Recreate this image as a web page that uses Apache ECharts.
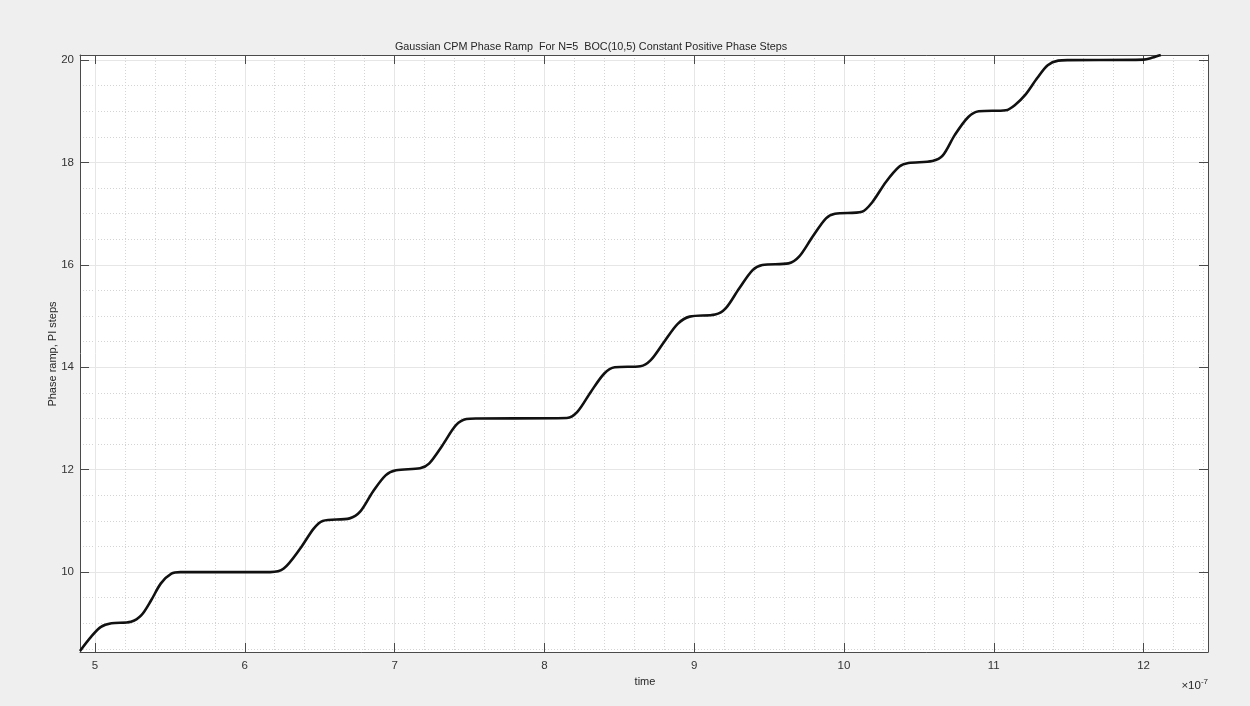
<!DOCTYPE html>
<html>
<head>
<meta charset="utf-8">
<style>
html,body{margin:0;padding:0;background:#efefef;}
#chart{width:1250px;height:706px;}
</style>
<script src="https://cdn.jsdelivr.net/npm/echarts@6/dist/echarts.min.js"></script>
</head>
<body>
<div id="chart"></div>
<script>
// time values in units of 1e-7 s
const timeValues = [4.90,4.975,5.04,5.11,5.24,5.31,5.375,5.44,5.51,5.57,
  6.17,6.26,6.37,6.46,6.52,6.70,6.77,6.855,6.94,7.01,
  7.17,7.23,7.32,7.41,7.48,7.55,8.15,8.22,8.31,8.40,
  8.47,8.64,8.71,8.80,8.89,8.97,9.14,9.21,9.30,9.39,
  9.455,9.63,9.70,9.79,9.88,9.94,10.12,10.19,10.28,10.37,
  10.43,10.59,10.66,10.74,10.83,10.90,11.08,11.14,11.21,11.29,
  11.36,11.43,11.50,12.00,12.06,12.115];
const phaseValues = [8.46,8.74,8.93,9.00,9.03,9.16,9.45,9.78,9.97,10.00,
  10.00,10.07,10.46,10.85,11.00,11.05,11.18,11.57,11.89,11.99,
  12.03,12.12,12.48,12.87,12.99,13.00,13.01,13.13,13.52,13.88,
  14.00,14.02,14.14,14.50,14.85,14.99,15.03,15.15,15.54,15.90,
  16.00,16.03,16.16,16.55,16.91,17.00,17.04,17.23,17.62,17.92,
  17.99,18.03,18.14,18.54,18.89,19.00,19.02,19.12,19.32,19.65,
  19.90,19.99,20.00,20.01,20.05,20.10];
const titleText = 'Gaussian CPM Phase Ramp  For N=5  BOC(10,5) Constant Positive Phase Steps';
const xLabel = 'time';
const yLabel = 'Phase ramp, PI steps';

const seriesData = timeValues.map((t, i) => [t, phaseValues[i]]);
const font = '"Liberation Sans", Arial, Helvetica, sans-serif';
const axisColor = '#4a4a4a';

function xAx(pos, labels) {
  return {
    type: 'value', position: pos, min: 4.9, max: 12.43,
    minInterval: 1, maxInterval: 1,
    axisLine: {show: true, onZero: false, lineStyle: {color: axisColor, width: 1}},
    axisTick: {show: true, inside: true, length: 9, lineStyle: {color: axisColor}},
    axisLabel: {show: labels, showMinLabel: false, showMaxLabel: false, color: '#333', fontSize: 11.5, fontFamily: font, margin: 8},
    minorTick: {show: false, splitNumber: 5},
    splitLine: {show: labels, lineStyle: {color: '#e6e6e6', width: 1, type: 'solid'}},
    minorSplitLine: {show: labels, lineStyle: {color: '#d4d4d4', width: 1, type: [1, 2]}}
  };
}
function yAx(pos, labels) {
  return {
    type: 'value', position: pos, min: 8.44, max: 20.1,
    minInterval: 2, maxInterval: 2,
    axisLine: {show: true, onZero: false, lineStyle: {color: axisColor, width: 1}},
    axisTick: {show: true, inside: true, length: 9, lineStyle: {color: axisColor}},
    axisLabel: {show: labels, showMinLabel: false, showMaxLabel: false, color: '#333', fontSize: 11.5, fontFamily: font, margin: 6},
    minorTick: {show: false, splitNumber: 4},
    splitLine: {show: labels, lineStyle: {color: '#e6e6e6', width: 1, type: 'solid'}},
    minorSplitLine: {show: labels, lineStyle: {color: '#d4d4d4', width: 1, type: [1, 2]}}
  };
}

const chart = echarts.init(document.getElementById('chart'), null, {renderer: 'canvas'});
chart.setOption({
  backgroundColor: '#efefef',
  animation: false,
  grid: {left: 80, right: 42, top: 55, bottom: 54, show: true, backgroundColor: '#ffffff', borderWidth: 0, outerBoundsMode: 'none'},
  xAxis: [xAx('bottom', true), xAx('top', false)],
  yAxis: [yAx('left', true), yAx('right', false)],
  series: [{
    type: 'line', data: seriesData, xAxisIndex: 0, yAxisIndex: 0,
    showSymbol: false, smooth: 0.3,
    lineStyle: {color: '#111111', width: 2.6}, clip: true
  }],
  graphic: [
    {type: 'text', x: 591, y: 47, style: {text: titleText, font: '10.8px ' + font, fill: '#262626', textAlign: 'center', textVerticalAlign: 'middle'}},
    {type: 'text', x: 645, y: 682, style: {text: xLabel, font: '11px ' + font, fill: '#262626', textAlign: 'center', textVerticalAlign: 'middle'}},
    {type: 'text', x: 53, y: 354, rotation: Math.PI / 2, style: {text: yLabel, font: '11px ' + font, fill: '#262626', textAlign: 'center', textVerticalAlign: 'middle'}},
    {type: 'text', right: 42, top: 678, style: {
      text: '{a|×10}{b|-7}', fill: '#262626',
      rich: {a: {font: '11.5px ' + font, fill: '#262626', verticalAlign: 'bottom'}, b: {font: '8px ' + font, fill: '#262626', verticalAlign: 'top', padding: [0, 0, 6, 0]}}
    }}
  ]
});
</script>
</body>
</html>
